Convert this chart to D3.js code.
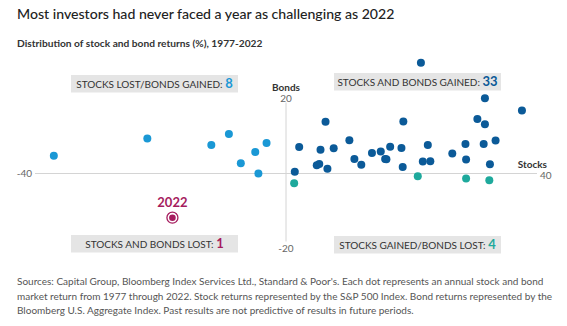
<!DOCTYPE html>
<html>
<head>
<meta charset="utf-8">
<title>Stock and bond returns</title>
<script src="https://d3js.org/d3.v7.min.js"></script>
<style>
  body { margin: 0; background: #fff; }
  svg { display: block; font-family: Lato, "Open Sans", sans-serif; }
</style>
</head>
<body>
<svg width="567" height="326"></svg>
<script>
// annual returns (%) 1977-2022
var years  = [1977,1978,1979,1980,1981,1982,1983,1984,1985,1986,1987,1988,1989,1990,1991,1992,
              1993,1994,1995,1996,1997,1998,1999,2000,2001,2002,2003,2004,2005,2006,2007,2008,
              2009,2010,2011,2012,2013,2014,2015,2016,2017,2018,2019,2020,2021,2022];
var stocks = [-7.2,6.6,18.6,32.5,-4.9,21.5,22.6,6.3,31.7,18.7,5.3,16.6,31.7,-3.1,30.5,7.6,
              10.1,1.3,37.6,23.0,33.4,28.6,21.0,-9.1,-11.9,-22.1,28.7,10.9,4.9,15.8,5.5,-37.0,
              26.5,15.1,2.1,16.0,32.4,13.7,1.4,12.0,21.8,-4.4,31.5,18.4,28.7,-18.1];
var bonds  = [3.0,1.4,1.9,2.7,6.3,32.6,8.4,15.2,22.1,15.3,2.8,7.9,14.5,9.0,16.0,7.4,
              9.8,-2.9,18.5,3.6,9.7,8.7,-0.8,11.6,8.4,10.3,4.1,4.3,2.4,4.3,7.0,5.2,
              5.9,6.5,7.8,4.2,-2.0,6.0,0.5,2.6,3.5,0.0,8.7,7.5,-1.5,-13.0];

var quadLabels = ["STOCKS LOST/BONDS GAINED: ", "STOCKS AND BONDS GAINED: ",
                  "STOCKS AND BONDS LOST: ", "STOCKS GAINED/BONDS LOST: "];
var quadKeys = ["lostGained", "bothGained", "bothLost", "gainedLost"];

var notes = [
  "Sources: Capital Group, Bloomberg Index Services Ltd., Standard & Poor's. Each dot represents an annual stock and bond",
  "market return from 1977 through 2022. Stock returns represented by the S&P 500 Index. Bond returns represented by the",
  "Bloomberg U.S. Aggregate Index. Past results are not predictive of results in future periods."
];

var colors = { bothGained: "#0b5a98", lostGained: "#1a98d5", gainedLost: "#1ea99c", bothLost: "#a51c5e" };

var data = years.map(function(y, i) { return { year: y, s: stocks[i], b: bonds[i] }; });
function quad(d) {
  if (d.s >= 0 && d.b >= 0) return "bothGained";
  if (d.s < 0 && d.b >= 0) return "lostGained";
  if (d.s >= 0) return "gainedLost";
  return "bothLost";
}
var counts = {};
data.forEach(function(d) { counts[quad(d)] = (counts[quad(d)] || 0) + 1; });

var svg = d3.select("svg");

var x = d3.scaleLinear().domain([-40, 40]).range([35, 537]);
var y = d3.scaleLinear().domain([-20, 20]).range([241.5, 105.5]);

svg.append("text").attr("x", 17).attr("y", 19)
   .attr("font-size", 14.1).attr("font-weight", 500).attr("fill", "#222")
   .text("Most investors had never faced a year as challenging as 2022");

svg.append("text").attr("x", 17).attr("y", 47)
   .attr("font-size", 10.2).attr("font-weight", 700).attr("fill", "#333")
   .text("Distribution of stock and bond returns (%), 1977-2022");

// axes
var ax = svg.append("g").attr("stroke", "#d4d4d4").attr("stroke-width", 1);
ax.append("line").attr("x1", x(-40)).attr("x2", x(40)).attr("y1", y(0)).attr("y2", y(0));
ax.append("line").attr("x1", x(0)).attr("x2", x(0)).attr("y1", y(20) - 3).attr("y2", y(-20));

var lab = svg.append("g").attr("font-size", 10).attr("fill", "#666");
lab.append("text").attr("x", x(-40) - 3).attr("y", y(0) + 3.5).attr("text-anchor", "end").text("-40");
lab.append("text").attr("x", x(40) + 3).attr("y", y(0) + 5.5).text("40");
lab.append("text").attr("x", x(0)).attr("y", y(20) - 4).attr("text-anchor", "middle").text("20");
lab.append("text").attr("x", x(0)).attr("y", y(-20) + 10).attr("text-anchor", "middle").text("-20");
svg.append("text").attr("x", 547).attr("y", y(0) - 6).attr("text-anchor", "end")
   .attr("font-size", 10).attr("font-weight", 700).attr("fill", "#333").text("Stocks");
svg.append("text").attr("x", x(0)).attr("y", y(20) - 15).attr("text-anchor", "middle")
   .attr("font-size", 10).attr("font-weight", 700).attr("fill", "#333").text("Bonds");

// quadrant boxes
var boxPos = [[71, 75], [334, 73], [71, 235], [334, 236]];
quadKeys.forEach(function(k, i) {
  var g = svg.append("g").attr("transform", "translate(" + boxPos[i][0] + "," + boxPos[i][1] + ")");
  g.append("rect").attr("width", 167).attr("height", 17.5).attr("fill", "#e5e5e5");
  var t = g.append("text").attr("x", 83.5).attr("y", 13).attr("text-anchor", "middle")
     .attr("font-size", 10).attr("fill", "#333");
  t.append("tspan").text(quadLabels[i]);
  t.append("tspan").attr("font-size", 13).attr("font-weight", 700)
   .attr("fill", colors[k]).text(counts[k]);
});

// dots
svg.append("g").selectAll("circle")
  .data(data.filter(function(d) { return d.year !== 2022; }))
  .enter().append("circle")
    .attr("cx", function(d) { return x(d.s); })
    .attr("cy", function(d) { return y(d.b); })
    .attr("r", 4)
    .attr("fill", function(d) { return colors[quad(d)]; });

var last = data.filter(function(d) { return d.year === 2022; })[0];
svg.append("circle").attr("cx", x(last.s)).attr("cy", y(last.b)).attr("r", 5.5)
   .attr("fill", "#fff").attr("stroke", colors.bothLost).attr("stroke-width", 1.3);
svg.append("circle").attr("cx", x(last.s)).attr("cy", y(last.b)).attr("r", 3.3)
   .attr("fill", colors.bothLost);
svg.append("text").attr("x", x(last.s)).attr("y", y(last.b) - 10.5).attr("text-anchor", "middle")
   .attr("font-size", 13).attr("font-weight", 700).attr("fill", colors.bothLost).text(last.year);

// footnote
svg.append("g").selectAll("text").data(notes).enter().append("text")
  .attr("x", 17).attr("y", function(d, i) { return 285 + i * 14.5; })
  .attr("font-size", 10).attr("fill", "#555")
  .text(function(d) { return d; });
</script>
</body>
</html>
